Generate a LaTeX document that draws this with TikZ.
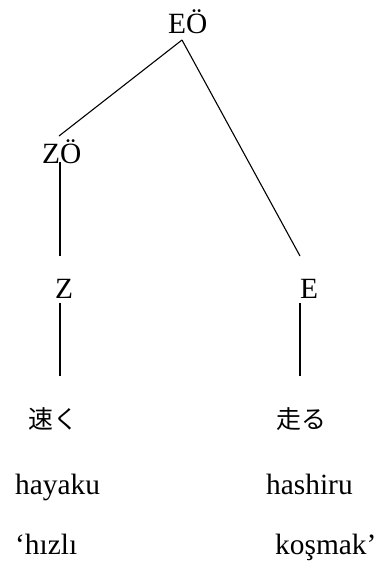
\documentclass[tikz,border=0pt]{standalone}
\usepackage{fontspec}
\setmainfont{Liberation Serif}
\newfontfamily\cjk{Noto Sans CJK JP}

\begin{document}
\begin{tikzpicture}[
  word/.style={anchor=base west,inner sep=0pt,font=\fontsize{29.5}{34}\selectfont},
  kana/.style={anchor=base west,inner sep=0pt,font=\cjk\fontsize{25}{30}\selectfont},
  branch/.style={line width=1.1pt}]
\def\s{0.03528}
\useasboundingbox (0,0) rectangle ({378*\s},{-575*\s});
% ---- 節点ラベル ----
\node[word] (eo) at ({168*\s},{-33*\s}) {EÖ};
\node[word] (zo) at ({42*\s},{-163*\s}) {ZÖ};
\node[word] (z)  at ({55*\s},{-298*\s}) {Z};
\node[word] (e)  at ({300*\s},{-298*\s}) {E};
% ---- 枝の端点 ----
\coordinate (eo-foot) at ({182*\s},{-40*\s});
\coordinate (zo-top)  at ({59*\s},{-136*\s});
\coordinate (zo-foot) at ({60*\s},{-162*\s});
\coordinate (z-top)   at ({60*\s},{-256*\s});
\coordinate (e-top)   at ({300*\s},{-256*\s});
\coordinate (z-foot)  at ({60*\s},{-303*\s});
\coordinate (z-end)   at ({60*\s},{-376*\s});
\coordinate (e-foot)  at ({300*\s},{-303*\s});
\coordinate (e-end)   at ({300*\s},{-376*\s});
% ---- 枝 ----
\draw[branch] (eo-foot) -- (zo-top);
\draw[branch] (eo-foot) -- (e-top);
\draw[branch] (zo-foot) -- (z-top);
\draw[branch] (z-foot) -- (z-end);
\draw[branch] (e-foot) -- (e-end);
% ---- 語：日本語・ローマ字・訳 ----
\node[kana] (hayaku-jp)  at ({28*\s},{-428*\s}) {速く};
\node[kana] (hashiru-jp) at ({276*\s},{-428*\s}) {走る};
\node[word] (hayaku)  at ({15*\s},{-494*\s}) {hayaku};
\node[word] (hashiru) at ({266*\s},{-494*\s}) {hashiru};
\node[word] (hizli)   at ({15*\s},{-554*\s}) {‘hızlı};
\node[word] (kosmak)  at ({275*\s},{-554*\s}) {koşmak’};
\end{tikzpicture}
\end{document}
